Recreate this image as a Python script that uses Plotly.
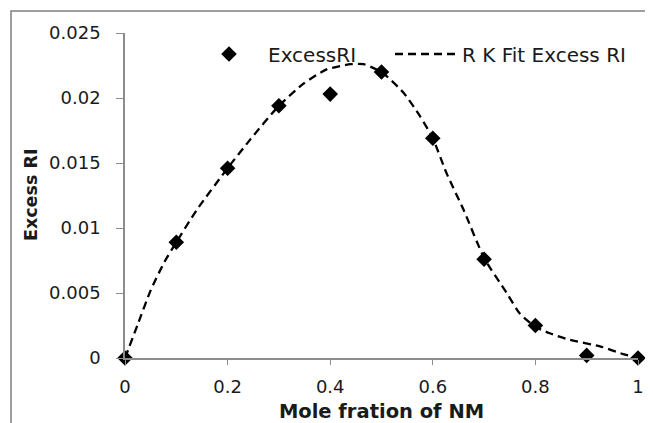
import plotly.graph_objects as go

# Measured data
mole_fraction = [0.0, 0.1, 0.2, 0.3, 0.4, 0.5, 0.6, 0.7, 0.8, 0.9, 1.0]
excess_ri = [0.0, 0.0089, 0.0146, 0.0194, 0.0203, 0.0220, 0.0169, 0.0076, 0.0025, 0.0002, 0.0]

# Redlich-Kister fit curve
fit_x = [0.0, 0.025, 0.05, 0.077, 0.1, 0.14, 0.2, 0.244, 0.3, 0.348, 0.393, 0.44, 0.465,
         0.5, 0.543, 0.575, 0.6, 0.627, 0.66, 0.7, 0.744, 0.77, 0.8, 0.828, 0.867,
         0.926, 0.971, 1.0]
fit_y = [0.0, 0.0026, 0.0052, 0.0074, 0.0089, 0.0114, 0.0146, 0.0168, 0.0194, 0.0211, 0.0222,
         0.0226, 0.0226, 0.0220, 0.0204, 0.0186, 0.0169, 0.0142, 0.0114, 0.0077, 0.0050,
         0.0034, 0.0024, 0.0019, 0.0014, 0.0009, 0.0003, 0.0]

x_ticks = [0, 0.2, 0.4, 0.6, 0.8, 1]
y_ticks = [0, 0.005, 0.01, 0.015, 0.02, 0.025]

FONT = "DejaVu Sans"
TXT = "#1a1a1a"
AX = "#8c8c8c"

# page body has an 8px margin: figure occupies screen 8..653 x 8..423
OFF = 8
W, H = 653 - OFF, 423 - OFF
ML, MR, MT, MB = 125 - OFF, 15, 33 - OFF, 65
PW = W - ML - MR
PH = H - MT - MB

def px_x(p):  # screen px -> paper fraction
    return (p - OFF - ML) / PW

def px_y(p):
    return (H - MB - (p - OFF)) / PH

fig = go.Figure()
fig.add_trace(go.Scatter(
    x=mole_fraction, y=excess_ri, mode="markers", name="ExcessRI",
    marker=dict(symbol="diamond", size=12, color="black"),
    cliponaxis=False, legend="legend",
))
fig.add_trace(go.Scatter(
    x=fit_x, y=fit_y, mode="lines", name="R K Fit Excess RI",
    line=dict(color="black", width=2.3, dash="8px,5px", shape="spline", smoothing=0.6),
    cliponaxis=False, legend="legend2",
))

legend_common = dict(
    orientation="h", xanchor="left", yanchor="middle",
    bgcolor="rgba(0,0,0,0)", font=dict(family=FONT, size=20, color=TXT),
)

fig.update_layout(
    width=W, height=H,
    margin=dict(l=ML, r=MR, t=MT, b=MB),
    paper_bgcolor="white", plot_bgcolor="white",
    font=dict(family=FONT, size=18, color=TXT),
    showlegend=True,
    legend=dict(x=px_x(190), y=px_y(54), itemwidth=68, **legend_common),
    legend2=dict(x=px_x(390), y=px_y(54), itemwidth=62, **legend_common),
    xaxis=dict(
        range=[0, 1], tickvals=x_ticks, ticktext=[f"{v:g}" for v in x_ticks],
        automargin=False,
        showgrid=False, zeroline=False, showline=True, linecolor=AX, linewidth=1.5,
        ticks="outside", ticklen=5, tickcolor=AX, tickwidth=1.2,
        ticklabelstandoff=7,
        tickfont=dict(family=FONT, size=18, color=TXT),
        title=dict(text="<b>Mole fration of NM</b>", standoff=10,
                   font=dict(family=FONT, size=19.5, color=TXT)),
    ),
    yaxis=dict(
        range=[0, 0.025], tickvals=y_ticks, ticktext=[f"{v:g}" for v in y_ticks],
        automargin=False,
        showgrid=False, zeroline=False, showline=True, linecolor=AX, linewidth=1.5,
        ticks="outside", ticklen=7, tickcolor=AX, tickwidth=1.2,
        ticklabelstandoff=12,
        tickfont=dict(family=FONT, size=18, color=TXT),
    ),
    shapes=[dict(
        type="rect", xref="paper", yref="paper",
        x0=px_x(11), x1=px_x(680), y0=px_y(450), y1=px_y(11),
        line=dict(color="#808080", width=1.5), fillcolor="rgba(0,0,0,0)", layer="below",
    )],
    annotations=[dict(
        text="<b>Excess RI</b>", xref="paper", yref="paper",
        x=px_x(31), y=px_y(195), xanchor="center", yanchor="middle",
        textangle=-90, showarrow=False,
        font=dict(family=FONT, size=17.5, color=TXT),
    )],
)

fig.write_html("out.html")
